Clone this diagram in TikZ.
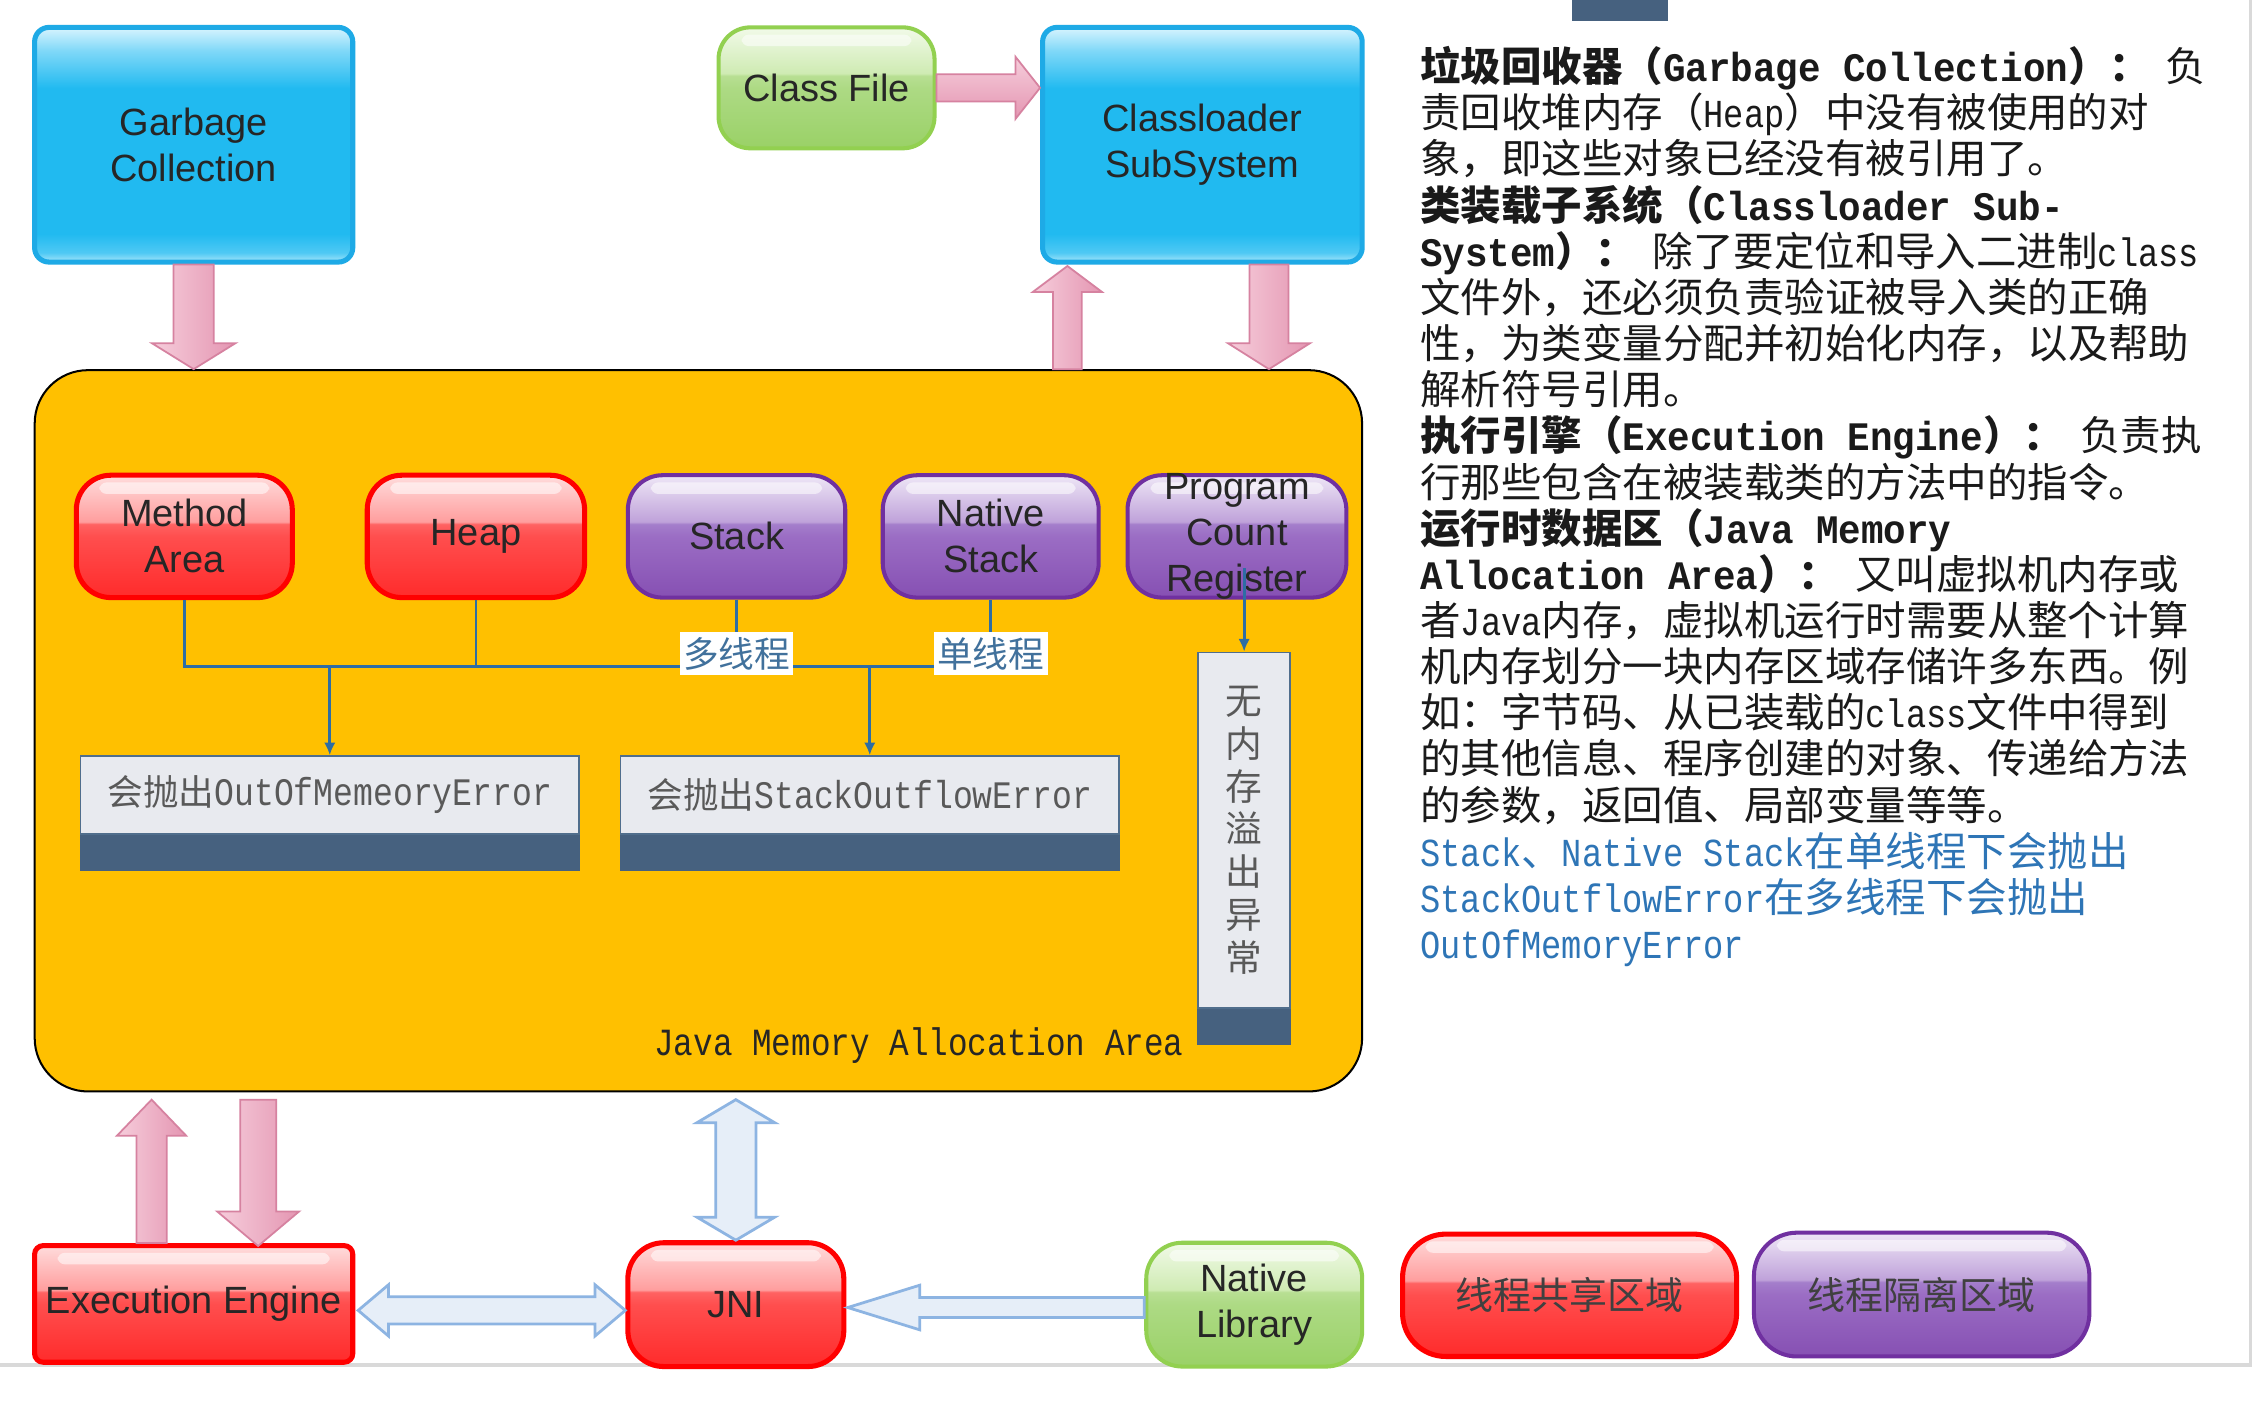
\documentclass[tikz,border=0pt]{standalone}
\usepackage{fontspec}
\setmainfont{Noto Sans CJK SC}
\setsansfont{Liberation Sans}
\newfontfamily\monoR[Scale=0.98,FakeStretch=0.85]{Liberation Mono}
\newfontfamily\monoB[Scale=1.0,FakeStretch=0.927]{Liberation Mono}
\usetikzlibrary{calc,arrows.meta}

\definecolor{jmaY}{RGB}{255,192,0}
\definecolor{txt}{RGB}{38,38,38}
\definecolor{rtxt}{RGB}{26,26,26}
\definecolor{bBorder}{RGB}{30,170,230}
\definecolor{rBorder}{RGB}{255,0,0}
\definecolor{pBorder}{RGB}{112,48,160}
\definecolor{gBorder}{RGB}{146,208,80}
\definecolor{pinkL}{RGB}{246,205,219}
\definecolor{pinkM}{RGB}{228,150,178}
\definecolor{pinkD}{RGB}{214,130,160}
\definecolor{lbFill}{RGB}{230,238,248}
\definecolor{lbDraw}{RGB}{141,180,226}
\definecolor{lightbox}{RGB}{232,234,239}
\definecolor{boxedge}{RGB}{80,110,140}
\definecolor{barc}{RGB}{70,97,127}
\definecolor{lineb}{RGB}{46,109,164}
\definecolor{graytxt}{RGB}{89,89,89}
\definecolor{legtxt}{RGB}{64,64,64}
\definecolor{bluetxt}{RGB}{46,117,182}
\definecolor{lbltxt}{RGB}{65,113,156}
\definecolor{framec}{RGB}{217,217,217}
% shading colours
\definecolor{bl1}{RGB}{168,230,250}
\definecolor{bl2}{RGB}{79,201,244}
\definecolor{bl3}{RGB}{33,186,240}
\definecolor{bl4}{RGB}{127,216,248}
\definecolor{bl5}{RGB}{216,244,254}
\definecolor{rd1}{RGB}{255,43,43}
\definecolor{rd2}{RGB}{255,78,78}
\definecolor{rd3}{RGB}{255,98,98}
\definecolor{rd4}{RGB}{255,158,158}
\definecolor{rd5}{RGB}{255,220,220}
\definecolor{pu1}{RGB}{134,80,179}
\definecolor{pu2}{RGB}{155,109,196}
\definecolor{pu3}{RGB}{164,126,203}
\definecolor{pu4}{RGB}{191,162,218}
\definecolor{pu5}{RGB}{238,230,246}
\definecolor{gr1}{RGB}{154,209,103}
\definecolor{gr2}{RGB}{173,218,132}
\definecolor{gr3}{RGB}{184,223,147}
\definecolor{gr4}{RGB}{207,235,179}
\definecolor{gr5}{RGB}{241,250,232}

\pgfdeclareverticalshading{bluegl}{100bp}{color(0bp)=(bl1); color(25bp)=(bl1); color(27bp)=(bl2); color(31bp)=(bl3); color(62bp)=(bl3); color(70bp)=(bl4); color(75bp)=(bl5); color(100bp)=(bl5)}
\pgfdeclareverticalshading{redgl}{100bp}{color(0bp)=(rd1); color(25bp)=(rd1); color(50bp)=(rd2); color(55bp)=(rd3); color(56bp)=(rd4); color(75bp)=(rd5); color(100bp)=(rd5)}
\pgfdeclareverticalshading{purgl}{100bp}{color(0bp)=(pu1); color(25bp)=(pu1); color(50bp)=(pu2); color(55bp)=(pu3); color(56bp)=(pu4); color(75bp)=(pu5); color(100bp)=(pu5)}
\pgfdeclareverticalshading{grngl}{100bp}{color(0bp)=(gr1); color(25bp)=(gr1); color(50bp)=(gr2); color(55bp)=(gr3); color(56bp)=(gr4); color(75bp)=(gr5); color(100bp)=(gr5)}

% block arrow from #2 to #3 (head at #3)
\newcommand\blockarrow[6]{%
  \coordinate (ab) at ($(#3)!#6!(#2)$);
  \path[#1] ($(#2)!#4!90:(#3)$) -- ($(ab)!#4!90:(#3)$) -- ($(ab)!#5!90:(#3)$) -- (#3)
    -- ($(ab)!#5!-90:(#3)$) -- ($(ab)!#4!-90:(#3)$) -- ($(#2)!#4!-90:(#3)$) -- cycle;}
% double block arrow between #2 and #3
\newcommand\dblarrow[6]{%
  \coordinate (ab1) at ($(#2)!#6!(#3)$);
  \coordinate (ab2) at ($(#3)!#6!(#2)$);
  \path[#1] (#2) -- ($(ab1)!#5!90:(#3)$) -- ($(ab1)!#4!90:(#3)$) -- ($(ab2)!#4!90:(#3)$)
    -- ($(ab2)!#5!90:(#3)$) -- (#3) -- ($(ab2)!#5!-90:(#3)$) -- ($(ab2)!#4!-90:(#3)$)
    -- ($(ab1)!#4!-90:(#3)$) -- ($(ab1)!#5!-90:(#3)$) -- cycle;}

\begin{document}
\begin{tikzpicture}[x=0.02cm,y=-0.02cm,
  box/.style={inner sep=0pt, align=center, font=\sffamily\fontsize{15}{18.2}\selectfont, text=txt},
  gloss/.style={path picture={\fill[white,opacity=0.55,rounded corners=0.1cm]
      ($(path picture bounding box.north west)+(16,5)$) rectangle ($(path picture bounding box.north east)+(-16,13)$);}},
  bluebox/.style={box, draw=bBorder, line width=2pt, shade, shading=bluegl, rounded corners=0.2cm,
      minimum width=4.42cm, minimum height=3.26cm},
  redbox/.style={box, draw=rBorder, line width=2pt, shade, shading=redgl, gloss},
  purbox/.style={box, draw=pBorder, line width=1.6pt, shade, shading=purgl, gloss},
  grnbox/.style={box, draw=gBorder, line width=1.6pt, shade, shading=grngl, gloss},
  inner/.style={minimum width=3cm, minimum height=1.7cm, rounded corners=0.48cm},
  errbox/.style={draw=boxedge, line width=0.6pt, fill=lightbox, inner sep=0pt,
      minimum width=6.92cm, minimum height=1.08cm, text=graytxt, font=\fontsize{14.1}{17}\selectfont},
  conn/.style={draw=lineb, line width=1.1pt},
  tip/.style={-{Latex[length=5pt,width=4.5pt]}},
  thrlbl/.style={fill=white, inner sep=0pt, minimum width=1.58cm, minimum height=0.6cm,
      text=lbltxt, font=\fontsize{14.1}{17}\selectfont},
  pinkv/.style={draw=pinkD, line width=0.7pt, left color=pinkL, right color=pinkM},
  pinkh/.style={draw=pinkD, line width=0.7pt, top color=pinkL, bottom color=pinkM},
  lbarr/.style={draw=lbDraw, line width=1.1pt, fill=lbFill},
  rt/.style={anchor=base west, inner sep=0pt, font=\fontsize{16}{18.2}\selectfont, text=rtxt},
  rtb/.style={rt, text=bluetxt},
  legend/.style={minimum width=4.64cm, minimum height=1.7cm, rounded corners=0.6cm,
      font=\fontsize{15}{18}\selectfont, text=legtxt}
]
\fill[white] (0,0) rectangle (1565.3,981.9);
\useasboundingbox (0,0) rectangle (1565.3,981.9);

% screenshot frame
\draw[framec, line width=1.4pt] (0,948) -- (1563,948) -- (1563,0);
\fill[barc] (1092,0) rectangle (1158,14.6);

% main memory area
\node[draw=black, line width=0.8pt, fill=jmaY, rounded corners=0.74cm, minimum width=18.44cm,
      minimum height=10.02cm, inner sep=0pt] (jma) at (485,507.5) {};
\node[anchor=base west, inner sep=0pt, text=txt, font=\fontsize{15.5}{18}\selectfont\monoR]
      (jmalbl) at (454,733) {Java Memory Allocation Area};

% top boxes
\node[bluebox] (gc) at (134.5,100.5) {Garbage\\Collection};
\node[grnbox, minimum width=3cm, minimum height=1.68cm, rounded corners=0.44cm] (cf) at (574,61) {Class File};
\node[bluebox, minimum width=4.44cm] (cls) at (835,100.5) {Classloader\\SubSystem};

% inner memory areas
\node[redbox, inner] (method) at (128,372.5) {Method\\Area};
\node[redbox, inner, minimum width=3.02cm] (heap) at (330.5,372.5) {Heap};
\node[purbox, inner, minimum width=3.02cm] (stack) at (511.5,372.5) {Stack};
\node[purbox, inner] (nstack) at (688,372.5) {Native\\Stack};
\node[purbox, inner, minimum width=3.04cm] (pcr) at (859,372.5) {};
\node[box] (pcrtxt) at (pcr.center) {Program\\Count\\Register};

% error boxes
\node[errbox] (oom) at (229,552) {会抛出{\fontsize{15.7}{17}\selectfont\monoR OutOfMemeoryError}};
\fill[barc] (oom.south west) rectangle ($(oom.south east)+(0,25)$);
\node[errbox] (soe) at (604,552) {会抛出{\fontsize{15.7}{17}\selectfont\monoR StackOutflowError}};
\fill[barc] (soe.south west) rectangle ($(soe.south east)+(0,25)$);
\node[errbox, minimum width=1.28cm, minimum height=4.94cm] (vbox) at (864,576.5) {};
\fill[barc] (vbox.south west) rectangle ($(vbox.south east)+(0,25)$);
\node[align=center, inner sep=0pt, text=graytxt, font=\fontsize{14.5}{16.9}\selectfont]
      (vtxt) at (vbox.center) {无\\内\\存\\溢\\出\\异\\常};

% connectors inside
\coordinate (bus) at (0,463);
\coordinate (lblrow) at (0,454);
\draw[conn] (method.south) |- (nstack.south |- bus) -- (nstack.south);
\draw[conn] (heap.south) -- (heap.south |- bus);
\draw[conn] (stack.south) -- (stack.south |- bus);
\draw[conn, tip] (oom.north |- bus) -- (oom.north);
\draw[conn, tip] (soe.north |- bus) -- (soe.north);
\coordinate (pcs) at ($(vbox.north |- pcr.south)+(0,-22)$);
\draw[conn, tip] (pcs) -- (vbox.north);
\node[thrlbl] (multi) at (stack.south |- lblrow) {多线程};
\node[thrlbl] (single) at (nstack.south |- lblrow) {单线程};

% bottom boxes
\node[redbox, minimum width=4.42cm, minimum height=1.62cm, rounded corners=0.12cm] (ee) at (134.5,905.5) {Execution Engine};
\node[redbox, minimum width=3cm, minimum height=1.72cm, rounded corners=0.5cm] (jni) at (511,906) {JNI};
\node[grnbox, minimum width=3cm, minimum height=1.72cm, rounded corners=0.5cm] (nlib) at (871,906) {Native\\Library};
\node[redbox, legend] (leg1) at (1090,899.5) {线程共享区域};
\node[purbox, legend, minimum width=4.66cm, minimum height=1.72cm] (leg2) at (1334.5,899) {线程隔离区域};

% block arrows
\coordinate (gcd) at (gc.south |- jma.north);
\blockarrow{pinkv}{gc.south}{gcd}{0.28cm}{0.58cm}{0.36cm}
\coordinate (cfe) at (cls.west |- cf.east);
\blockarrow{pinkh}{cf.east}{cfe}{0.19cm}{0.43cm}{0.34cm}
\coordinate (cu) at ($(cls.south west)+(19,1)$);
\coordinate (cub) at (cu |- jma.north);
\blockarrow{pinkv}{cub}{cu}{0.2cm}{0.48cm}{0.36cm}
\coordinate (cd) at ($(cls.south east)+(-66.5,0)$);
\coordinate (cdb) at (cd |- jma.north);
\blockarrow{pinkv}{cd}{cdb}{0.27cm}{0.57cm}{0.36cm}
\coordinate (eu) at ($(ee.north west)+(83,0)$);
\coordinate (eut) at ($(eu |- jma.south)+(0,5)$);
\blockarrow{pinkv}{eu}{eut}{0.21cm}{0.48cm}{0.5cm}
\coordinate (ed) at ($(ee.north west)+(157,2)$);
\coordinate (edt) at ($(ed |- jma.south)+(0,5)$);
\blockarrow{pinkv}{edt}{ed}{0.25cm}{0.57cm}{0.48cm}
\coordinate (jt) at ($(jni.north |- jma.south)+(0,5)$);
\dblarrow{lbarr}{jt}{jni.north}{0.28cm}{0.54cm}{0.32cm}
\coordinate (hy) at (0,910);
\coordinate (h1) at ($(ee.east |- hy)+(2,0)$);
\coordinate (h2) at (jni.west |- hy);
\dblarrow{lbarr}{h1}{h2}{0.19cm}{0.355cm}{0.42cm}
\coordinate (ny) at (0,908);
\coordinate (n1) at (nlib.west |- ny);
\coordinate (n2) at ($(jni.east |- ny)+(1,0)$);
\blockarrow{lbarr}{n1}{n2}{0.14cm}{0.31cm}{1.0cm}

% explanation text
\node[rt] (t1) at (986,56.7) {\bfseries 垃圾回收器（{\monoB Garbage Collection}）：\hspace{0.4em}\mdseries 负};
\node[rt] (t2) at (986,88.75) {责回收堆内存（{\monoR Heap}）中没有被使用的对};
\node[rt] (t3) at (986,120.8) {象，即这些对象已经没有被引用了。};
\node[rt] (t4) at (986,152.85) {\bfseries 类装载子系统（{\monoB Classloader Sub-}};
\node[rt] (t5) at (986,184.9) {{\bfseries\monoB System}{\bfseries ）：}\hspace{0.4em}除了要定位和导入二进制{\monoR class}};
\node[rt] (t6) at (986,216.95) {文件外，还必须负责验证被导入类的正确};
\node[rt] (t7) at (986,249.0) {性，为类变量分配并初始化内存，以及帮助};
\node[rt] (t8) at (986,281.05) {解析符号引用。};
\node[rt] (t9) at (986,313.1) {\bfseries 执行引擎（{\monoB Execution Engine}）：\hspace{0.4em}\mdseries 负责执};
\node[rt] (t10) at (986,345.15) {行那些包含在被装载类的方法中的指令。};
\node[rt] (t11) at (986,377.2) {\bfseries 运行时数据区（{\monoB Java Memory}};
\node[rt] (t12) at (986,409.25) {{\bfseries\monoB Allocation Area}{\bfseries ）：}\hspace{0.4em}又叫虚拟机内存或};
\node[rt] (t13) at (986,441.3) {者{\monoR Java}内存，虚拟机运行时需要从整个计算};
\node[rt] (t14) at (986,473.35) {机内存划分一块内存区域存储许多东西。例};
\node[rt] (t15) at (986,505.4) {如：字节码、从已装载的{\monoR class}文件中得到};
\node[rt] (t16) at (986,537.45) {的其他信息、程序创建的对象、传递给方法};
\node[rt] (t17) at (986,569.5) {的参数，返回值、局部变量等等。};
\node[rtb] (t18) at (986,601.55) {{\monoR Stack}、{\monoR Native Stack}在单线程下会抛出};
\node[rtb] (t19) at (986,633.6) {{\monoR StackOutflowError}在多线程下会抛出};
\node[rtb] (t20) at (986,665.65) {{\monoR OutOfMemoryError}};
\end{tikzpicture}
\end{document}
